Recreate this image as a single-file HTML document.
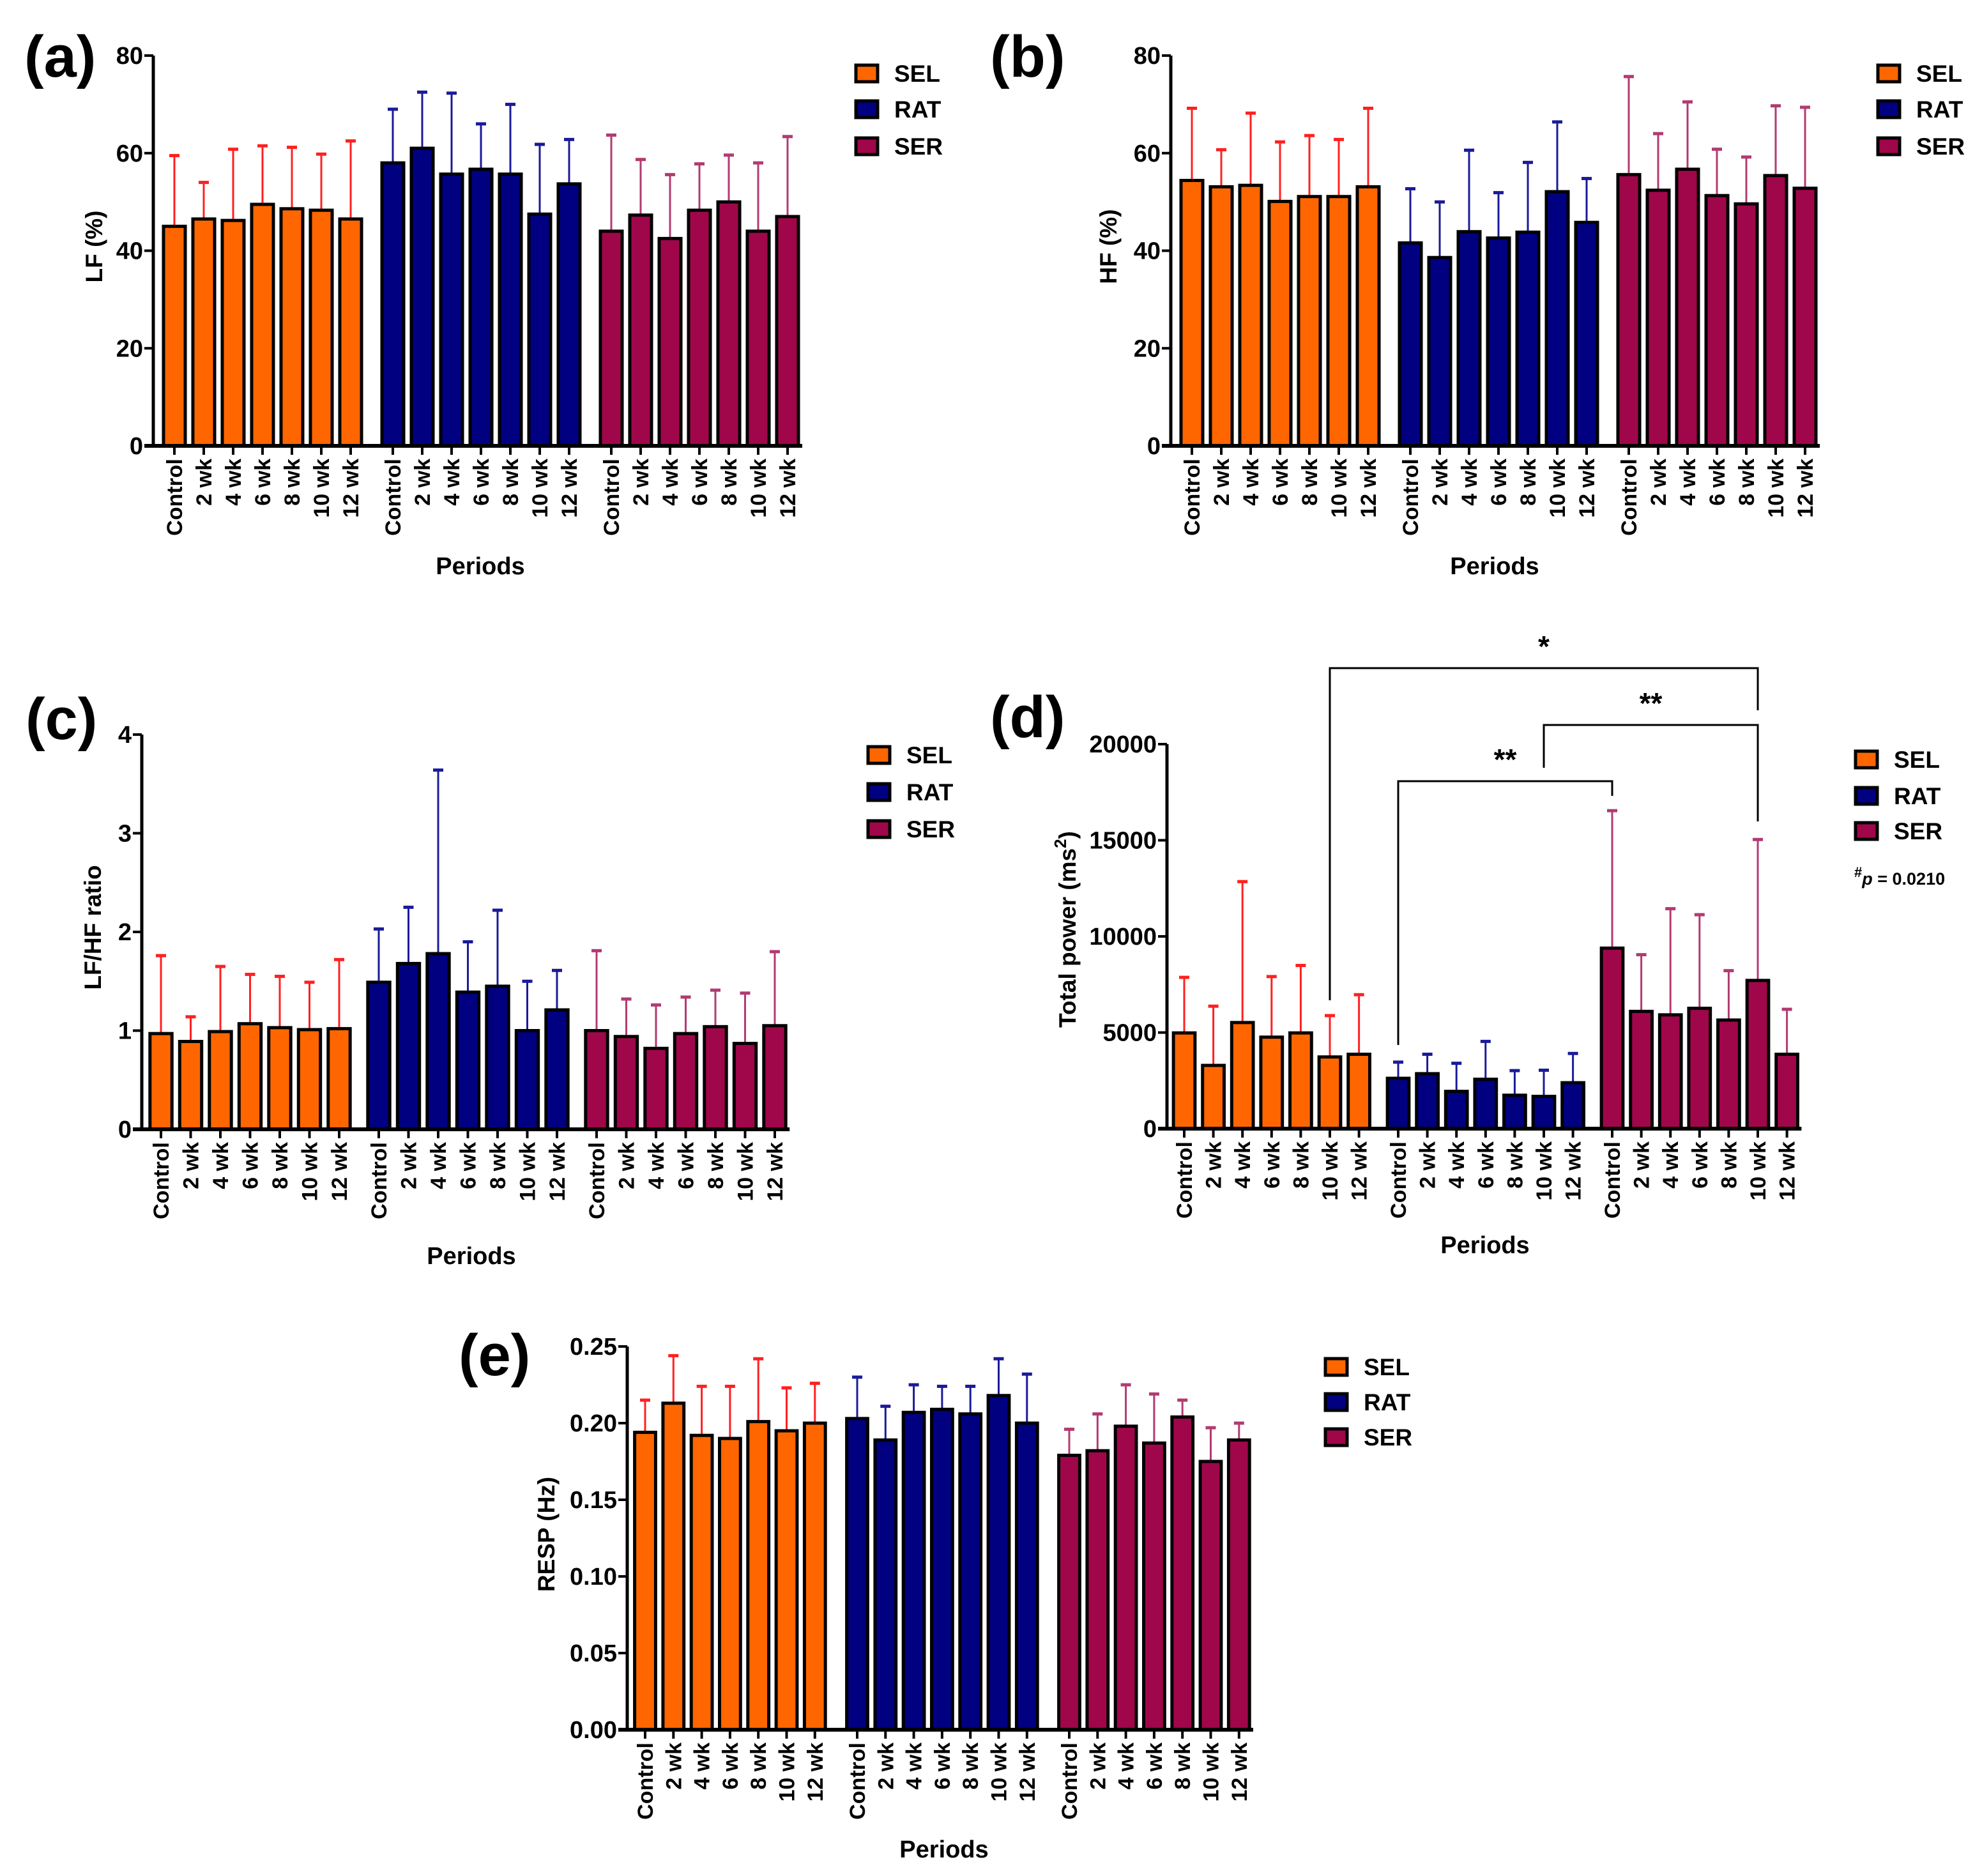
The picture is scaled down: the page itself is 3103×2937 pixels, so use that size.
<!DOCTYPE html>
<html><head><meta charset="utf-8">
<style>
html,body{margin:0;padding:0;background:#fff;}
svg{display:block;}
text{font-family:"Liberation Sans",Arial,sans-serif;font-weight:bold;fill:#000;}
.num{font-family:"Liberation Sans Narrow","Liberation Sans",sans-serif;font-weight:bold;}
</style></head>
<body>
<svg id="fig" width="3103" height="2937" viewBox="0 0 3103 2937" xmlns="http://www.w3.org/2000/svg"></svg>
<script>
const categories = ["Control","2 wk","4 wk","6 wk","8 wk","10 wk","12 wk"];
const groups = ["SEL","RAT","SER"];

const lfSEL = [45,46.5,46.2,49.5,48.6,48.3,46.5];
const lfSELerr = [59.5,54,60.8,61.5,61.2,59.8,62.5];
const lfRAT = [58,61,55.7,56.7,55.7,47.5,53.7];
const lfRATerr = [69,72.5,72.3,66,70,61.8,62.8];
const lfSER = [44,47.3,42.5,48.3,50,44,47];
const lfSERerr = [63.7,58.7,55.6,57.8,59.6,58,63.4];
const lfTicks = [0,20,40,60,80];

const hfSEL = [54.4,53.1,53.4,50.1,51.1,51.1,53.1];
const hfSELerr = [69.2,60.7,68.2,62.3,63.6,62.8,69.2];
const hfRAT = [41.6,38.6,43.9,42.6,43.8,52.1,45.8];
const hfRATerr = [52.7,50,60.6,51.9,58.1,66.4,54.8];
const hfSER = [55.6,52.4,56.7,51.3,49.6,55.4,52.8];
const hfSERerr = [75.7,64,70.5,60.8,59.2,69.7,69.4];
const hfTicks = [0,20,40,60,80];

const ratioSEL = [0.97,0.89,0.99,1.07,1.03,1.01,1.02];
const ratioSELerr = [1.76,1.14,1.65,1.57,1.55,1.49,1.72];
const ratioRAT = [1.49,1.68,1.78,1.39,1.45,1.0,1.21];
const ratioRATerr = [2.03,2.25,3.64,1.90,2.22,1.50,1.61];
const ratioSER = [1.0,0.94,0.82,0.97,1.04,0.87,1.05];
const ratioSERerr = [1.81,1.32,1.26,1.34,1.41,1.38,1.80];
const ratioTicks = [0,1,2,3,4];

const tpSEL = [4980,3290,5520,4760,4980,3730,3870];
const tpSELerr = [7870,6370,12850,7910,8490,5880,6970];
const tpRAT = [2620,2860,1940,2570,1740,1680,2390];
const tpRATerr = [3460,3870,3400,4540,3020,3040,3910];
const tpSER = [9390,6100,5920,6260,5650,7710,3870];
const tpSERerr = [16540,9050,11440,11130,8220,15040,6210];
const tpTicks = [0,5000,10000,15000,20000];

const respSEL = [0.194,0.213,0.192,0.190,0.201,0.195,0.200];
const respSELerr = [0.215,0.244,0.224,0.224,0.242,0.223,0.226];
const respRAT = [0.203,0.189,0.207,0.209,0.206,0.218,0.200];
const respRATerr = [0.230,0.211,0.225,0.224,0.224,0.242,0.232];
const respSER = [0.179,0.182,0.198,0.187,0.204,0.175,0.189];
const respSERerr = [0.196,0.206,0.225,0.219,0.215,0.197,0.200];
const respTicks = [0,0.05,0.10,0.15,0.20,0.25];

const NS = "http://www.w3.org/2000/svg";
const svg = document.getElementById("fig");
const fills = ["#ff6600","#000080","#a0064a"];
const errCols = ["#ff2020","#1a1a99","#b23a72"];

function mk(tag, attrs, parent){
  const e = document.createElementNS(NS, tag);
  for (const k in attrs) e.setAttribute(k, attrs[k]);
  (parent||svg).appendChild(e);
  return e;
}

function panel(p){
  const g = mk("g", {});
  
  
  const ymin = p.ticks[0], ymax = p.ticks[p.ticks.length-1];
  const yS = v => p.y0 - (v - ymin)/(ymax - ymin)*(p.y0 - p.yTop);
  const xS = (gi, ci) => p.first + gi*p.gOff + ci*p.step;
  // bars
  const bw = p.step*0.74;
  [p.s0,p.s1,p.s2].forEach((vals, gi) => {
    vals.forEach((v, ci) => {
      const cx = xS(gi, ci);
      const top = p.e[gi][ci];
      const eb = mk("line", {x1:cx, x2:cx, y1:yS(v), y2:yS(top), stroke:errCols[gi], "stroke-width":3}, g);
      
      
      const cap = mk("line", {x1:cx-8, x2:cx+8, y1:yS(top), y2:yS(top), stroke:errCols[gi], "stroke-width":5}, g);
      
      
      const r = mk("rect", {x:cx-bw/2, y:yS(v), width:bw, height:p.y0-yS(v), fill:fills[gi], stroke:"#000", "stroke-width":5}, g);
      
      
      const tk = mk("line", {x1:cx, x2:cx, y1:p.y0, y2:p.y0+14, stroke:"#000", "stroke-width":4}, g);
      
      
      const t = mk("text", {x:cx+12, y:p.y0+20, "font-size":34, "text-anchor":"end", transform:"rotate(-90 "+(cx+12)+" "+(p.y0+20)+")"}, g);
      t.textContent = categories[ci];
      
      
    });
  });
  // axes
  const lastX = xS(2, 6) + p.step*0.5;
  const ya = mk("line", {x1:p.ax, x2:p.ax, y1:p.yTop, y2:p.y0+2, stroke:"#000", "stroke-width":5}, g);
  
  
  const xa = mk("line", {x1:p.ax-14, x2:lastX, y1:p.y0, y2:p.y0, stroke:"#000", "stroke-width":6}, g);
  
  
  p.ticks.forEach(tv => {
    const y = yS(tv);
    const l = mk("line", {x1:p.ax-14, x2:p.ax, y1:y, y2:y, stroke:"#000", "stroke-width":4}, g);
    
    
    const t = mk("text", {x:p.ax-16, y:y+13, "font-size":38, "text-anchor":"end", class:"num"}, g);
    t.textContent = p.fmt(tv);
    
    
  });
  // y-axis title
  const yt = mk("text", {x:p.ytx, y:p.yty, "font-size":37, "text-anchor":"middle", transform:"rotate(-90 "+p.ytx+" "+p.yty+")"}, g);
  yt.innerHTML = p.ytitle;
  
  
  // x-axis title
  const xt = mk("text", {x:p.pX, y:p.pY+13, "font-size":38, "text-anchor":"middle"}, g);
  xt.textContent = "Periods";
  
  
  // panel letter
  const pl = mk("text", {x:p.lx, y:p.ly+32, "font-size":92}, g);
  pl.textContent = p.letter;
  
  
  // legend
  groups.forEach((gn, gi) => {
    const cy = p.legY[gi];
    const sq = mk("rect", {x:p.legX, y:cy-13, width:34, height:26, fill:fills[gi], stroke:"#000", "stroke-width":5}, g);
    
    
    const lt = mk("text", {x:p.legX+60, y:cy+13, "font-size":37, class:"num"}, g);
    lt.textContent = gn;
    
    
  });
  return {g, xS, yS};
}

const fmtInt = v => String(v);
const fmt2 = v => v.toFixed(2);

panel({name:"panel-a-lf", letter:"(a)", ax:240, yTop:87, y0:698, first:273, step:46, gOff:342,
  ticks:lfTicks, fmt:fmtInt, s0:lfSEL, s1:lfRAT, s2:lfSER, e:[lfSELerr,lfRATerr,lfSERerr],
  ytitle:"LF (%)", ytx:160, yty:386, pX:752, pY:886, lx:38, ly:88, legX:1340, legY:[115,171,229]});

panel({name:"panel-b-hf", letter:"(b)", ax:1833, yTop:87, y0:698, first:1866, step:46, gOff:342,
  ticks:hfTicks, fmt:fmtInt, s0:hfSEL, s1:hfRAT, s2:hfSER, e:[hfSELerr,hfRATerr,hfSERerr],
  ytitle:"HF (%)", ytx:1748, yty:386, pX:2340, pY:886, lx:1550, ly:88, legX:2940, legY:[115,171,229]});

panel({name:"panel-c-ratio", letter:"(c)", ax:222, yTop:1150, y0:1768, first:252, step:46.5, gOff:341,
  ticks:ratioTicks, fmt:fmtInt, s0:ratioSEL, s1:ratioRAT, s2:ratioSER, e:[ratioSELerr,ratioRATerr,ratioSERerr],
  ytitle:"LF/HF ratio", ytx:158, yty:1452, pX:738, pY:1966, lx:40, ly:1125, legX:1359, legY:[1182,1240,1298]});

const d = panel({name:"panel-d-total-power", letter:"(d)", ax:1827, yTop:1165, y0:1767, first:1854, step:45.6, gOff:335,
  ticks:tpTicks, fmt:fmtInt, s0:tpSEL, s1:tpRAT, s2:tpSER, e:[tpSELerr,tpRATerr,tpSERerr],
  ytitle:"Total power (ms<tspan baseline-shift='super' font-size='26'>2</tspan>)", ytx:1684, yty:1455, pX:2325, pY:1949, lx:1550, ly:1122, legX:2905, legY:[1189,1246,1301]});

panel({name:"panel-e-resp", letter:"(e)", ax:982, yTop:2108, y0:2708, first:1010, step:44.3, gOff:332,
  ticks:respTicks, fmt:fmt2, s0:respSEL, s1:respRAT, s2:respSER, e:[respSELerr,respRATerr,respSERerr],
  ytitle:"RESP (Hz)", ytx:868, yty:2402, pX:1478, pY:2895, lx:718, ly:2121, legX:2075, legY:[2140,2195,2250]});

// significance brackets in panel d
const brackets = [
  {a:[0,5], b:[2,5], top:1046, la:1566, lb:1112, label:"*"},
  {a:[1,5], b:[2,5], top:1135, la:1202, lb:1286, label:"**"},
  {a:[1,0], b:[2,0], top:1223, la:1636, lb:1246, label:"**"}
];
brackets.forEach(br => {
  const x1 = d.xS(br.a[0], br.a[1]), x2 = d.xS(br.b[0], br.b[1]);
  const pth = mk("path", {d:"M"+x1+" "+br.la+" V"+br.top+" H"+x2+" V"+br.lb, fill:"none", stroke:"#000", "stroke-width":3}, d.g);
  
  
  const t = mk("text", {x:(x1+x2)/2, y:br.top-18, "font-size":46, "text-anchor":"middle"}, d.g);
  t.textContent = br.label;
  
  
});
const pv = mk("text", {x:2903, y:1385, "font-size":27, class:"num"}, d.g);
pv.innerHTML = "<tspan baseline-shift='super' font-size='22'>#</tspan><tspan font-style='italic'>p</tspan> = 0.0210";


</script>
</body></html>
